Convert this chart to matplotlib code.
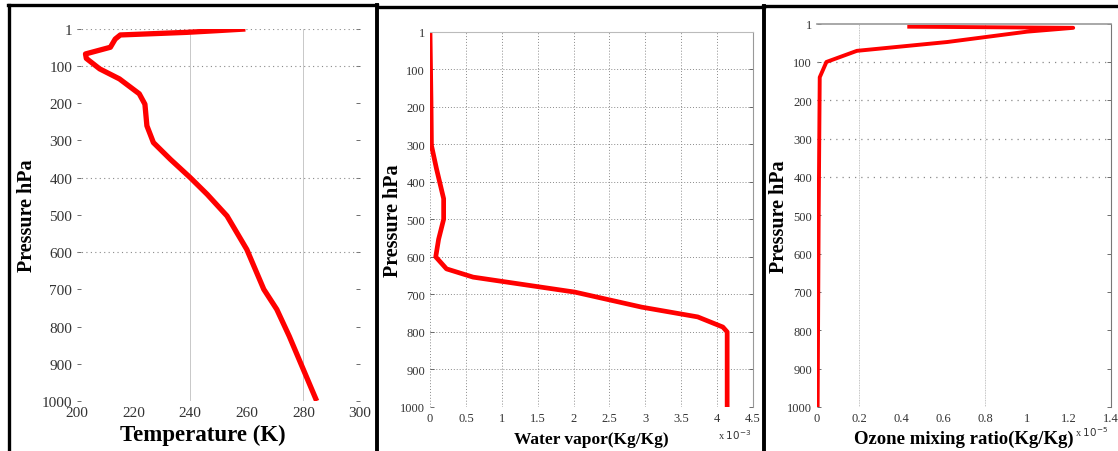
import numpy as np
import matplotlib
matplotlib.use("Agg")
import matplotlib.pyplot as plt
from matplotlib.lines import Line2D
from matplotlib.ticker import FuncFormatter

# pressure levels (hPa) and profiles
temp_p = [1, 5.5, 10, 17, 28, 50, 68, 80, 108, 135, 175, 203, 261, 306, 351, 400,
          445, 503, 593, 700, 754, 826, 1000]
temp_k = [259.5, 249.4, 238.8, 215.3, 213.5, 211.8, 203.0, 203.3, 208.0, 215.0, 222.0,
          224.0, 224.7, 227.0, 233.0, 240.0, 246.0, 253.0, 260.0, 266.0, 270.6, 275.0, 284.7]

wv_p = [1, 187, 303, 365, 445, 500, 553, 600, 632, 654, 694, 734, 760, 787, 800, 1000]
wv_q = [0.0, 0.014, 0.02, 0.09, 0.19, 0.19, 0.12, 0.08, 0.23, 0.60, 2.02, 2.95, 3.73,
        4.08, 4.14, 4.14]  # x 1e-3 Kg/Kg

oz_p = [8, 11, 21, 48, 71, 100, 140, 500, 1000]
oz_q = [0.43, 1.22, 1.0, 0.62, 0.19, 0.045, 0.013, 0.008, 0.003]  # x 1e-5 Kg/Kg

p_ticks = [1, 100, 200, 300, 400, 500, 600, 700, 800, 900, 1000]

W, H = 1118, 452
SERIF = "Liberation Serif"
RED = "#ff0000"
GRID = "#8a8a8a"

fig = plt.figure(figsize=(W / 100, H / 100), dpi=100)


def box(left, right, top, bottom):
    return [left / W, 1 - bottom / H, (right - left) / W, (bottom - top) / H]


def base_axes(rect, tick_size=9):
    ax = fig.add_axes(rect)
    ax.set_ylim(1000, 1)
    ax.set_yticks(p_ticks)
    ax.tick_params(direction="in", length=3, width=0.6, colors="#555555",
                   labelcolor="#333333", labelsize=tick_size, left=True, right=True,
                   top=False, bottom=False)
    for lab in ax.get_xticklabels() + ax.get_yticklabels():
        lab.set_family(SERIF)
    for s in ax.spines.values():
        s.set_visible(False)
    return ax


def fmt_g(v, pos):
    return "%g" % v


# ---- panel 1: temperature
ax1 = base_axes(box(77, 360, 30, 402), tick_size=11)
ax1.set_xlim(200, 300)
ax1.set_xticks([200, 220, 240, 260, 280, 300])
for v in [1, 100, 400, 600]:
    ax1.axhline(v, color=GRID, ls=(0, (1, 3)), lw=0.8)
for v in [240, 280]:
    ax1.axvline(v, color="#c8c8c8", lw=0.7)
ax1.plot(temp_k, temp_p, color=RED, lw=3.8, solid_capstyle="butt")
ax1.set_xlabel("Temperature (K)", family=SERIF, fontweight="bold", fontsize=16.5, labelpad=3)
ax1.xaxis.set_label_coords(0.445, -0.06)
ax1.xaxis.label.set_va("top")
ax1.set_ylabel("Pressure hPa", family=SERIF, fontweight="bold", fontsize=14.5, labelpad=3)

# ---- panel 2: water vapour
ax2 = base_axes(box(430, 753, 33, 408))
ax2.set_xlim(0, 4.5)
ax2.set_xticks(np.arange(0, 4.6, 0.5))
ax2.xaxis.set_major_formatter(FuncFormatter(fmt_g))
ax2.grid(True, color=GRID, ls=(0, (1, 2)), lw=0.7)
ax2.spines["right"].set_visible(True)
ax2.spines["top"].set_visible(True)
ax2.spines["right"].set_color("#999999")
ax2.spines["top"].set_color("#bbbbbb")
ax2.plot(wv_q, wv_p, color=RED, lw=3.4, solid_capstyle="butt")
ax2.set_xlabel("Water vapor(Kg/Kg)", family=SERIF, fontweight="bold", fontsize=12.5, labelpad=5)
ax2.set_ylabel("Pressure hPa", family=SERIF, fontweight="bold", fontsize=14.5, labelpad=-2)
ax2.text(0.995, -0.055, r"x $10^{-3}$", transform=ax2.transAxes, ha="right", va="top",
         family=SERIF, fontsize=7.5, color="#333333")

# ---- panel 3: ozone
ax3 = base_axes(box(817, 1111, 25, 408))
ax3.set_xlim(0, 1.4)
ax3.set_xticks([0, 0.2, 0.4, 0.6, 0.8, 1.0, 1.2, 1.4])
ax3.xaxis.set_major_formatter(FuncFormatter(fmt_g))
for v in [100, 200, 300, 400]:
    ax3.axhline(v, color=GRID, ls=(0, (1, 4)), lw=0.9)
for v in [0.2, 0.8]:
    ax3.axvline(v, color="#b0b0b0", ls=(0, (1, 1)), lw=0.6)
ax3.spines["right"].set_visible(True)
ax3.spines["top"].set_visible(True)
ax3.spines["right"].set_color("#777777")
ax3.spines["top"].set_color("#999999")
ax3.spines["top"].set_linewidth(1.2)
ax3.plot(oz_q, oz_p, color=RED, lw=2.8, solid_capstyle="butt")
ax3.set_xlabel("Ozone mixing ratio(Kg/Kg)", family=SERIF, fontweight="bold", fontsize=13.5, labelpad=4)
ax3.set_ylabel("Pressure hPa", family=SERIF, fontweight="bold", fontsize=14.5, labelpad=-1)
ax3.text(0.99, -0.045, r"x $10^{-5}$", transform=ax3.transAxes, ha="right", va="top",
         family=SERIF, fontsize=7.5, color="#333333")

# ---- black frames around the panels
def frame(x0, y0, x1, y1, lw=2.4):
    fig.add_artist(Line2D([x0 / W, x1 / W], [1 - y0 / H, 1 - y1 / H],
                          transform=fig.transFigure, color="black", lw=lw))

frame(8.5, 5.5, 8.5, H)
frame(8, 5.5, 377, 5.5)
frame(376.5, 5.5, 376.5, H, lw=2.8)
frame(377, 7.5, 764, 7.5)
frame(763.5, 7, 763.5, H, lw=2.8)
frame(763, 6.5, W, 6.5)

fig.savefig("out.png", dpi=100)
